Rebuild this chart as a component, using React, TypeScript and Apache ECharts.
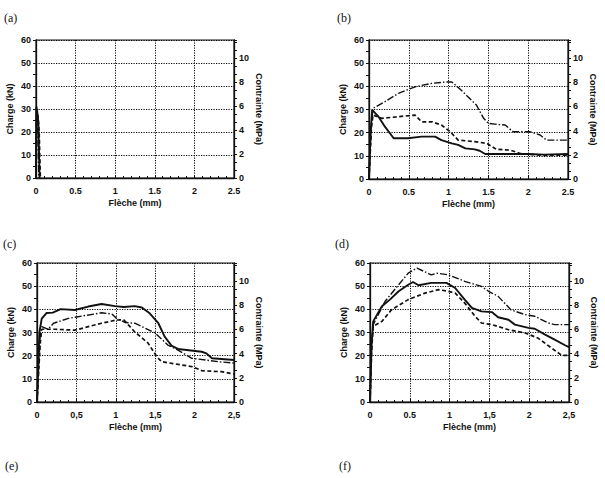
import React, { useEffect, useRef } from "react";
import * as echarts from "echarts";

// ---------- data ----------
const panelLetters = ["(a)", "(b)", "(c)", "(d)", "(e)", "(f)"];

const xTickLabelsA = ["0", "0.5", "1", "1.5", "2", "2.5"];
const xTickLabelsB = ["0", "0.5", "1", "1.5", "2", "2.5"];
const xTickLabelsC = ["0", "0,5", "1", "1,5", "2", "2,5"];
const xTickLabelsD = ["0", "0.5", "1", "1,5", "2", "2,5"];
const yLeftTickLabels = ["0", "10", "20", "30", "40", "50", "60"];
const yRightTickLabels = ["0", "2", "4", "6", "8", "10"];

const xAxisName = "Flèche (mm)";
const yLeftName = "Charge (kN)";
const yRightName = "Contrainte (MPa)";

// panel (a)
const aSolid = [[0, 0], [0.005, 31], [0.015, 29], [0.03, 24], [0.045, 0]];
const aDashed = [[0, 0], [0.01, 28], [0.025, 27], [0.04, 20], [0.055, 0]];
const aDashDot = [[0, 0], [0.008, 30], [0.02, 26], [0.035, 0]];

// panel (b)
const bSolid = [[0, 0], [0.02, 20], [0.04, 29.8], [0.12, 26.9], [0.2, 22.6], [0.31, 17.6], [0.49, 17.6], [0.66, 18.3], [0.83, 18.3], [0.91, 16.8], [1.04, 15.4], [1.12, 14.7], [1.21, 13.2], [1.33, 12.8], [1.39, 12.2], [1.46, 10.8], [2.0, 10.8], [2.2, 10.5], [2.5, 10.8]];
const bDashed = [[0, 0], [0.03, 22], [0.05, 27.6], [0.16, 26.2], [0.37, 26.9], [0.58, 27.6], [0.66, 24.7], [0.79, 24.7], [0.91, 23.3], [1.02, 20.4], [1.12, 16.8], [1.33, 16.1], [1.48, 15.4], [1.6, 12.8], [1.77, 12.5], [1.9, 11], [2.2, 10.2], [2.5, 10.3]];
const bDashDot = [[0, 0], [0.03, 24], [0.05, 30.5], [0.2, 33.4], [0.37, 37], [0.58, 39.8], [0.79, 41.3], [0.98, 41.9], [1.04, 41.9], [1.16, 38.3], [1.29, 33.9], [1.35, 31.9], [1.44, 26.2], [1.5, 24], [1.58, 23.7], [1.71, 23.3], [1.81, 20.4], [2.02, 20.4], [2.15, 19], [2.23, 16.8], [2.5, 16.8]];

// panel (c)
const cSolid = [[0, 0], [0.03, 30], [0.06, 36], [0.12, 38.4], [0.2, 38.6], [0.3, 40.1], [0.48, 39.7], [0.65, 41.2], [0.82, 42.3], [0.99, 41.4], [1.1, 41], [1.24, 41.4], [1.33, 40.8], [1.43, 38.3], [1.54, 34], [1.62, 28.2], [1.71, 24.2], [1.79, 22.9], [2.09, 21.7], [2.15, 21], [2.22, 18.9], [2.5, 18.1]];
const cDashDot = [[0, 0], [0.04, 28], [0.06, 32.5], [0.14, 31.4], [0.21, 34], [0.4, 36.1], [0.52, 36.8], [0.82, 38.5], [0.95, 38], [1.01, 36.1], [1.12, 34.3], [1.24, 34], [1.5, 29.8], [1.66, 24.6], [1.79, 22.4], [1.96, 18.9], [2.3, 17.4], [2.5, 16.8]];
const cDashed = [[0, 0], [0.04, 25], [0.06, 31.4], [0.23, 31.4], [0.48, 31], [0.82, 34], [1.01, 35.4], [1.1, 35.5], [1.24, 30.3], [1.41, 25.4], [1.52, 19.6], [1.58, 17.4], [1.98, 15.2], [2.09, 13.5], [2.34, 13.1], [2.5, 12.1]];

// panel (d)
const dSolid = [[0, 0], [0.02, 25], [0.04, 34.8], [0.15, 41.3], [0.25, 44.2], [0.36, 47.8], [0.48, 50.6], [0.54, 51.8], [0.61, 50.4], [0.77, 51.4], [0.96, 51.4], [1.07, 49.2], [1.19, 44.2], [1.28, 40.6], [1.4, 39.1], [1.53, 38.8], [1.61, 36.6], [1.74, 35.5], [1.82, 33.4], [1.99, 32], [2.07, 31.6], [2.2, 29.1], [2.32, 26.9], [2.45, 24.5], [2.5, 23.7]];
const dDashDot = [[0, 0], [0.02, 24], [0.04, 33.4], [0.19, 43.5], [0.36, 50.6], [0.48, 55.6], [0.59, 57.8], [0.77, 54.9], [0.84, 55.6], [0.98, 54.9], [1.19, 52.1], [1.4, 49.9], [1.49, 47.8], [1.61, 45.6], [1.77, 39.8], [1.95, 37.7], [2.07, 37], [2.24, 34.1], [2.32, 33.4], [2.5, 33.4]];
const dDashed = [[0, 0], [0.02, 22], [0.04, 32.7], [0.15, 34.8], [0.27, 39.8], [0.48, 44.2], [0.69, 47], [0.86, 48.5], [0.98, 47.8], [1.07, 47], [1.19, 42.7], [1.32, 37], [1.4, 34.1], [1.53, 33.4], [1.74, 31.2], [1.95, 29.8], [2.11, 27.6], [2.28, 23.3], [2.41, 20.1], [2.5, 20.1]];

const panelX = [xTickLabelsA, xTickLabelsB, xTickLabelsC, xTickLabelsD];
const panelSeries = [
  [aSolid, aDashed, aDashDot],
  [bSolid, bDashed, bDashDot],
  [cSolid, cDashed, cDashDot],
  [dSolid, dDashed, dDashDot],
];

// ---------- layout / style ----------
const grids = [
  { left: 36, top: 40, width: 198, height: 138 },
  { left: 369, top: 40, width: 199, height: 139 },
  { left: 37, top: 263, width: 197, height: 139 },
  { left: 370, top: 263, width: 199, height: 139 },
];
const letterPos = [
  [4, 18], [337, 18], [3, 244], [335, 244], [5, 466], [339, 466],
];

const FONT = "Liberation Sans";
const ink = "#111";

export default function App() {
  const ref = useRef<HTMLDivElement>(null);
  useEffect(() => {
    if (!ref.current) return;
    const chart = echarts.init(ref.current, undefined, { renderer: "svg" });
    const labelStyle = { fontFamily: FONT, fontWeight: "bold", fontSize: 9, color: ink };
    const gridLine = { show: true, lineStyle: { color: "#000", type: [1.2, 1.3], width: 1 } };
    const xAxis: any[] = [];
    const yAxis: any[] = [];
    const series: any[] = [];
    grids.forEach((g, i) => {
      xAxis.push({
        type: "value", gridIndex: i, min: 0, max: 2.5, interval: 0.5,
        name: xAxisName, nameLocation: "middle", nameGap: 20,
        nameTextStyle: { ...labelStyle },
        axisLine: { show: true, lineStyle: { color: ink, width: 1.3 } },
        axisTick: { show: true, inside: true, length: 3, lineStyle: { color: ink } },
        minorTick: { show: true, splitNumber: 5, length: 2, lineStyle: { color: ink } },
        axisLabel: { ...labelStyle, margin: 8, formatter: (v: number) => panelX[i][Math.round(v / 0.5)] ?? "" },
        splitLine: gridLine,
      });
      yAxis.push({
        type: "value", gridIndex: i, min: 0, max: 60, interval: 10, position: "left",
        name: yLeftName, nameLocation: "middle", nameGap: 22,
        nameTextStyle: { ...labelStyle },
        axisLine: { show: true, lineStyle: { color: ink, width: 1.3 } },
        axisTick: { show: true, inside: false, length: 3, lineStyle: { color: ink } },
        minorTick: { show: true, splitNumber: 2, length: 3, lineStyle: { color: ink } },
        axisLabel: { ...labelStyle, margin: 5, formatter: (v: number) => yLeftTickLabels[Math.round(v / 10)] ?? "" },
        splitLine: gridLine,
      });
      yAxis.push({
        type: "value", gridIndex: i, min: 0, max: 11.5, interval: 2, position: "right",
        name: yRightName, nameLocation: "middle", nameGap: 20, nameRotate: -90,
        nameTextStyle: { ...labelStyle },
        axisLine: { show: true, onZero: false, lineStyle: { color: ink, width: 1.3 } },
        axisTick: { show: true, inside: false, length: 3, lineStyle: { color: ink } },
        minorTick: { show: true, splitNumber: 3, length: 3, lineStyle: { color: ink } },
        axisLabel: {
          ...labelStyle, margin: 5, showMaxLabel: false,
          formatter: (v: number) => (Math.abs(v / 2 - Math.round(v / 2)) < 1e-6 ? yRightTickLabels[Math.round(v / 2)] ?? "" : ""),
        },
        splitLine: { show: false },
      });
      const [solid, dashed, dashdot] = panelSeries[i];
      const base = { type: "line", xAxisIndex: i, yAxisIndex: 2 * i, showSymbol: false, symbol: "none", silent: true };
      series.push({ ...base, name: `s${i}`, data: solid, lineStyle: { color: ink, width: 1.9, type: "solid" }, z: 5 });
      series.push({ ...base, name: `d${i}`, data: dashed, lineStyle: { color: ink, width: 1.7, type: [4, 2.5] }, z: 4 });
      series.push({ ...base, name: `dd${i}`, data: dashdot, lineStyle: { color: ink, width: 1.4, type: [7, 2, 1.5, 2] }, z: 4 });
    });
    chart.setOption({
      animation: false,
      backgroundColor: "#fff",
      grid: grids.map((g) => ({ ...g, show: true, borderColor: ink, borderWidth: 1.2, backgroundColor: "transparent" })),
      xAxis,
      yAxis,
      series,
      graphic: panelLetters.map((t, i) => ({
        type: "text", x: letterPos[i][0], y: letterPos[i][1],
        style: { text: t, fontFamily: "Liberation Serif", fontSize: 12, fill: ink, verticalAlign: "middle", align: "left" },
      })),
    });
    return () => chart.dispose();
  }, []);
  return <div ref={ref} style={{ position: "fixed", left: 0, top: 0, width: 605, height: 478 }} />;
}
